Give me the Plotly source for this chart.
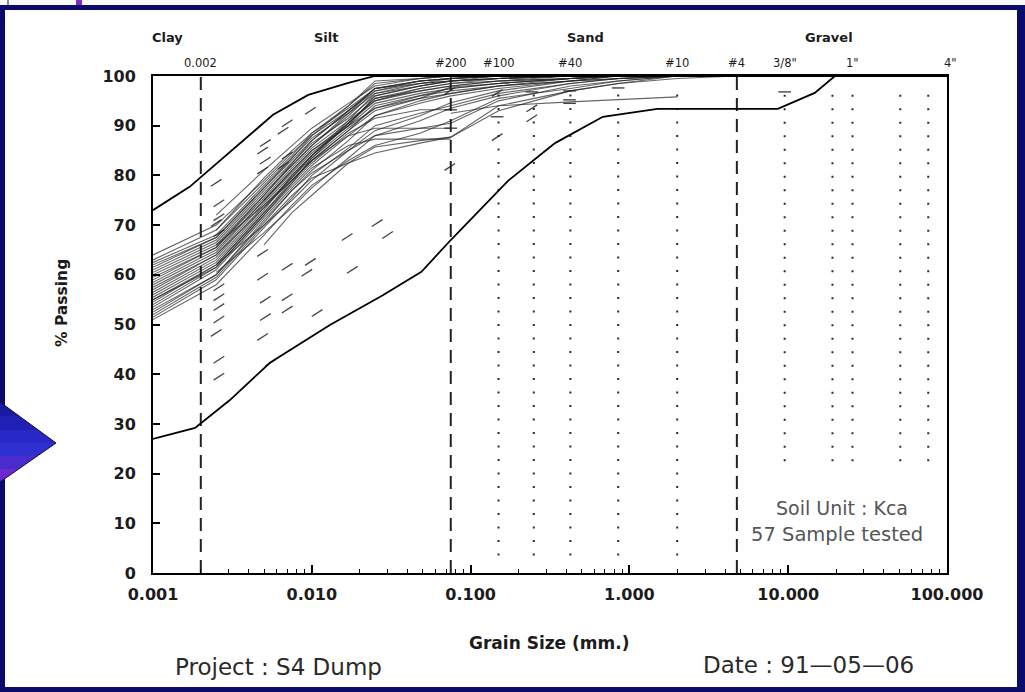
import plotly.graph_objects as go
import math

# ---------------------------------------------------------------------------
# Grain-size distribution, soil unit Kca, S4 Dump (57 samples)
# ---------------------------------------------------------------------------

# grain sizes (mm) at which every sample record is tabulated
GRID_MM = [0.001, 0.0025, 0.005, 0.0075, 0.01, 0.017, 0.025, 0.048, 0.075,
           0.15, 0.425, 0.85, 2.0, 4.75]

# % passing per sample record (None = no reading at that size)
S01 = [None, 72, 81, 86, 89.5, 94.5, 98, 99.5, 100, 100, None, None, None, None]
S02 = [None, 69, 79.5, 85, 88.5, 93.5, 97.5, 99, 99.5, 100, 100, None, None, None]
S03 = [64, 70, 79, 84.5, 88, 93, 97, 99, 99.5, 100, 100, 100, None, None]
S04 = [63, 69, 78.5, 84, 88.5, 94, 98.5, 99.5, 100, 100, None, None, None, None]
S05 = [62.5, 68, 78, 83.5, 87.5, 92.5, 96.5, 98.5, 99, 99.5, 100, 100, 100, 100]
S06 = [62, 67.5, 77.5, 83, 87, 93, 97.5, 99, 99.5, 100, 100, 100, None, None]
S07 = [61, 67, 77, 82.5, 86.5, 91.5, 96, 98, 99, 99.5, 100, 100, 100, None]
S08 = [60.5, 66.5, 76.5, 82, 86, 92, 97, 98.5, 99.5, 100, 100, None, None, None]
S09 = [60, 66, 76, 82.5, 87, 93, 97.5, 98.5, 99, 99.5, 100, 100, 100, 100]
S10 = [59, 65.5, 75.5, 81.5, 85.5, 91, 95, 97.5, 98.5, 99, 99.5, 100, 100, None]
S11 = [58.5, 65, 75, 81, 85, 90.5, 95.5, 97, 98, 99, 100, 100, None, None]
S12 = [58, 64.5, 75, 80.5, 84.5, 90, 94.5, 96.5, 97.5, 98.5, 99.5, 100, 100, 100]
S13 = [57, 64, 74.5, 80, 84, 90, 96, 98, 99, 99.5, 100, None, None, None]
S14 = [56.5, 63.5, 74, 79.5, 83.5, 89.5, 93.5, 96, 97, 98, 99, 99.5, 100, 100]
S15 = [56, 63, 73.5, 79, 83, 89, 93, 95.5, 96.5, 98, 99, 100, 100, None]
S16 = [55.5, 62.5, 73, 80, 84, 91, 96.5, 98, 99, 100, None, None, None, None]
S17 = [55, 62, 72.5, 78.5, 82.5, 88.5, 91.5, 93.2, 93.2, None, None, None, None, None]
S18 = [54, 61.5, 72, 78, 82, 88, 89.5, None, 89.5, None, None, None, None, None]
S19 = [53.5, 61, 71.5, 77.5, 81.5, 86, 87.3, None, 87.3, None, None, None, None, None]
S20 = [53, 60, 71, 77, 80.5, 85, 88, 89.5, 90.5, 95, 98, 99, 100, None]
S21 = [52, 59.5, 70, 76, 79.5, 82.5, 84.5, 86.5, 87.7, 94, 97, 98.5, 99.5, 100]
S22 = [51.5, 59, 69.5, 75.5, 80, 85.5, 90, 92.5, 94, 96.5, 98.5, 99.5, 100, None]
S23 = [51, 58, 68, 74, 78, 83, 86, 88.5, 91, 95.5, 97.5, 99, 100, None]
S24 = [None, None, 66, 72.5, 76, 82.5, 85.7, 87, 87.7, 93, 97, 98.5, 100, None]
S25 = [None, 62, 70, 75, 79, 85, 89, 92, 94.6, 97, 99, 100, None, None]
S26 = [None, 66, 74, 79, 83, 88, 92, 95, 96.5, 98, 99.5, 100, None, None]
S27 = [None, None, 75, 81, 85, 90, 93.5, 95.5, 97.8, 98.5, 99.5, 100, None, None]
S28 = [None, None, None, None, None, None, None, None, 92.5, 94, 94.8, 95.2, 95.8, None]
S29 = [57.5, 64, 73.5, 79.5, 84, 90.5, 95.5, 97.5, 98.5, 99.5, 100, None, None, None]
S30 = [55, 61.5, 72, 78.5, 83.5, 90.5, 95, 97, 98, 99, 99.5, 100, None, None]
S31 = [59.5, 65.5, 76, 82, 86, 92.5, 97.5, 99, 99.5, 100, None, None, None, None]
S32 = [61.5, 67.5, 77.5, 83.5, 88, 94, 99, 99.5, 100, None, None, None, None, None]
S33 = [54.5, 62, 72.5, 79, 83, 89, 94, 96, 97.5, 98.5, 99.5, 100, None, None]
S34 = [52.5, 60, 70.5, 77, 81, 87, 92, 94.5, 96, 97.5, 99, 99.5, 100, None]
S35 = [None, 60.5, 68.5, 73.5, 77.5, 83.5, 88, 91, 93.5, 96, 98.5, 99.5, 100, None]

SAMPLES = [S01, S02, S03, S04, S05, S06, S07, S08, S09, S10, S11, S12, S13, S14, S15,
           S16, S17, S18, S19, S20, S21, S22, S23, S24, S25, S26, S27, S28, S29, S30,
           S31, S32, S33, S34, S35]

# hydrometer slope marks (size mm, % passing)
MARK_MM = [0.0098, 0.0070, 0.0066, 0.0051, 0.0049, 0.0051, 0.0049, 0.0070, 0.0066,
           0.0025, 0.0026, 0.0026, 0.0025, 0.0026,
           0.0258, 0.030, 0.0167, 0.0098, 0.0070, 0.0093, 0.018,
           0.0049, 0.0049, 0.0070, 0.0051, 0.0070, 0.0108, 0.0051, 0.0049,
           0.0026, 0.0026, 0.0026, 0.0026, 0.0025, 0.0026, 0.0026, 0.0055,
           0.147, 0.147, 0.243, 0.243, 0.074, 0.074]
MARK_PCT = [93, 90.5, 89, 86.5, 85, 83, 81, 84, 82,
            78.5, 74.4, 71.6, 70.4, 68.4,
            70.4, 68, 67.6, 62.6, 61.6, 60.4, 61,
            64.4, 59.6, 55.5, 55, 53, 52.3, 51.5, 47.5,
            57.5, 55.5, 53.5, 51, 48.3, 42.9, 39.5, 42.3,
            96.6, 87.7, 93.5, 91.5, 81.7, 97]

# level reading marks (size mm, % passing)
FLAT_MM = [0.147, 0.42, 0.42, 0.42, 0.85, 0.243, 9.5, 0.075, 0.075]
FLAT_PCT = [91.8, 95.2, 94.5, 97, 97.6, 96.8, 96.8, 93.2, 89.5]

# envelope of all samples
UPPER_MM = [0.001, 0.0017, 0.0057, 0.0095, 0.017, 0.025, 100]
UPPER_PCT = [73, 77.7, 92.2, 96.2, 98.6, 100, 100]
LOWER_MM = [0.001, 0.00184, 0.00305, 0.00545, 0.013, 0.028, 0.049, 0.075, 0.172,
            0.34, 0.68, 1.5, 8.6, 14.7, 19.7, 100]
LOWER_PCT = [27, 29.2, 34.8, 42.3, 49.9, 55.9, 60.6, 67, 78.9,
             86.5, 91.8, 93.4, 93.4, 96.6, 100, 100]

# class boundaries (clay/silt, #200, #4) and intermediate sieves
BOUNDARY_MM = [0.002, 0.075, 4.75]
SAND_SIEVES_MM = [0.15, 0.25, 0.425, 0.85, 2.0]
GRAVEL_SIEVES_MM = [9.5, 19.0, 25.4, 50.8, 76.2]

SIEVE_LABELS = ["0.002", "#200", "#100", "#40", "#10", "#4", "3/8\"", "1\""]
SIEVE_LABEL_MM = [0.002, 0.075, 0.15, 0.425, 2.0, 4.75, 9.5, 25.4]
EDGE_SIEVE_LABEL = "4\""   # 101.6 mm, just past the right edge of the axis

CLASS_NAMES = ["Clay", "Silt", "Sand", "Gravel"]
CLASS_LABEL_MM = [0.00123, 0.0123, 0.53, 18.0]

X_TICKS = [0.001, 0.01, 0.1, 1, 10, 100]
X_TICKTEXT = ["0.001", "0.010", "0.100", "1.000", "10.000", "100.000"]
Y_TICKS = list(range(0, 101, 10))

# ---------------------------------------------------------------------------
W, H = 1025, 692
ML, MR, MT, MB = 153, 78, 76, 119
PW, PH = W - ML - MR, H - MT - MB
NAVY = "#0b0b6c"
INK = "#1c1c1c"


def fx(px):
    """pixel column -> paper x"""
    return (px - ML) / PW


def fy(py):
    """pixel row -> paper y"""
    return (H - MB - py) / PH


def text_note(px, py, text, size, color, family="DejaVu Sans", angle=0):
    return dict(x=fx(px), y=fy(py), xref="paper", yref="paper", text=text,
                xanchor="center", yanchor="middle", textangle=angle, showarrow=False,
                font=dict(family=family, size=size, color=color))


fig = go.Figure()

# dotted sieve lines
for mm in SAND_SIEVES_MM:
    fig.add_trace(go.Scatter(x=[mm, mm], y=[3.5, 97.5], mode="lines",
                             line=dict(color="#2a2a2a", width=2, dash="2px,11.5px"),
                             hoverinfo="skip"))
for mm in GRAVEL_SIEVES_MM:
    fig.add_trace(go.Scatter(x=[mm, mm], y=[22.5, 97.5], mode="lines",
                             line=dict(color="#2a2a2a", width=2, dash="2px,11.5px"),
                             hoverinfo="skip"))

# dashed class boundaries
for mm in BOUNDARY_MM:
    fig.add_trace(go.Scatter(x=[mm, mm], y=[0, 100], mode="lines",
                             line=dict(color="#222", width=2, dash="13px,8px"),
                             hoverinfo="skip"))

# individual sample curves
for s in SAMPLES:
    fig.add_trace(go.Scatter(x=GRID_MM, y=s, mode="lines", connectgaps=True,
                             line=dict(color="rgba(35,35,35,0.7)", width=1.1),
                             hoverinfo="skip"))

# hydrometer marks
fig.add_trace(go.Scatter(x=MARK_MM, y=MARK_PCT, mode="markers",
                         marker=dict(symbol="line-ne", size=9, angle=12,
                                     line=dict(color="rgba(35,35,35,0.85)", width=1.3)),
                         hoverinfo="skip"))
fig.add_trace(go.Scatter(x=FLAT_MM, y=FLAT_PCT, mode="markers",
                         marker=dict(symbol="line-ew", size=9,
                                     line=dict(color="rgba(35,35,35,0.85)", width=1.4)),
                         hoverinfo="skip"))

# envelopes
fig.add_trace(go.Scatter(x=UPPER_MM, y=UPPER_PCT, mode="lines",
                         line=dict(color="black", width=1.8), hoverinfo="skip"))
fig.add_trace(go.Scatter(x=LOWER_MM, y=LOWER_PCT, mode="lines",
                         line=dict(color="black", width=1.8), hoverinfo="skip"))

annotations = []
for name, mm in zip(CLASS_NAMES, CLASS_LABEL_MM):
    annotations.append(dict(x=math.log10(mm), xref="x", y=fy(37), yref="paper",
                            xanchor="center", yanchor="middle",
                            text=f"<b>{name}</b>", showarrow=False,
                            font=dict(family="DejaVu Sans", size=13, color=INK)))
for lab, mm in zip(SIEVE_LABELS, SIEVE_LABEL_MM):
    annotations.append(dict(x=math.log10(mm), xref="x", y=fy(63), yref="paper",
                            xanchor="center", yanchor="middle",
                            text=lab, showarrow=False,
                            font=dict(family="DejaVu Sans", size=11.5, color=INK)))
annotations.append(text_note(950, 63, EDGE_SIEVE_LABEL, 11.5, INK))

annotations += [
    text_note(62, 303, "<b>% Passing</b>", 15.5, INK, angle=-90),
    text_note(549, 643, "<b>Grain Size (mm.)</b>", 17, INK),
    text_note(278, 667, "Project : S4 Dump", 23, "#2a2a2a"),
    text_note(808, 665, "Date : 91—05—06", 23, "#2a2a2a"),
    text_note(842, 508, "Soil Unit : Kca", 19, "#555"),
    text_note(837, 534, "57 Sample tested", 19.5, "#555"),
]

shapes = [
    # white slide panel inside the navy frame
    dict(type="rect", xref="paper", yref="paper", x0=fx(5), x1=fx(1017), y0=fy(687), y1=fy(10),
         fillcolor="white", line=dict(width=0), layer="below"),
    dict(type="rect", xref="paper", yref="paper", x0=fx(0), x1=fx(1025), y0=fy(5), y1=fy(0),
         fillcolor="#fafafa", line=dict(width=0), layer="below"),
    dict(type="rect", xref="paper", yref="paper", x0=fx(76), x1=fx(82), y0=fy(5), y1=fy(0),
         fillcolor="#7b2fc4", line=dict(width=0), layer="below"),
    dict(type="line", xref="paper", yref="paper", x0=fx(8), x1=fx(8), y0=fy(5), y1=fy(0),
         line=dict(color="#222", width=1), layer="below"),
]

# pointer arrow on the left edge, shaded blue -> violet from top to bottom
ARROW_TOP, ARROW_TIP_Y, ARROW_BOT, ARROW_TIP_X = 402, 443, 482, 56
band_edges = [402, 416, 430, 443, 456, 469, 482]
band_colors = ["#1a1aa0", "#2020b4", "#2828c6", "#3030d0", "#4a2ccc", "#6a2ad0"]


def arrow_x(py):
    if py <= ARROW_TIP_Y:
        return ARROW_TIP_X * (py - ARROW_TOP) / (ARROW_TIP_Y - ARROW_TOP)
    return ARROW_TIP_X * (ARROW_BOT - py) / (ARROW_BOT - ARROW_TIP_Y)


for (ya, yb), col in zip(zip(band_edges[:-1], band_edges[1:]), band_colors):
    shapes.append(dict(type="path", xref="paper", yref="paper",
                       path=(f"M {fx(0)},{fy(ya)} L {fx(arrow_x(ya))},{fy(ya)} "
                             f"L {fx(arrow_x(yb))},{fy(yb)} L {fx(0)},{fy(yb)} Z"),
                       fillcolor=col, line=dict(width=0)))
shapes.append(dict(type="path", xref="paper", yref="paper",
                   path=(f"M {fx(0)},{fy(ARROW_TOP)} L {fx(ARROW_TIP_X)},{fy(ARROW_TIP_Y)} "
                         f"L {fx(0)},{fy(ARROW_BOT)}"),
                   line=dict(color="#101030", width=1)))

fig.update_layout(
    width=W, height=H,
    margin=dict(l=ML, r=MR, t=MT, b=MB, pad=0),
    paper_bgcolor=NAVY, plot_bgcolor="white",
    showlegend=False,
    annotations=annotations,
    shapes=shapes,
    xaxis=dict(type="log", range=[-3, 2], tickvals=X_TICKS, ticktext=X_TICKTEXT,
               showgrid=False, zeroline=False, showline=True, linecolor="black",
               linewidth=2, mirror=True, ticks="inside", ticklen=8, tickwidth=1.5,
               tickcolor="black", ticklabelstandoff=6,
               minor=dict(ticks="inside", ticklen=4, tickwidth=1.2, tickcolor="black",
                          tickvals=[m * 10 ** e for e in range(-3, 2) for m in range(2, 10)]),
               tickfont=dict(family="DejaVu Sans", size=16, color=INK, weight="bold")),
    yaxis=dict(range=[0, 100], tickvals=Y_TICKS, showgrid=False, zeroline=False,
               showline=True, linecolor="black", linewidth=2, mirror=True,
               ticks="inside", ticklen=7, tickwidth=2, tickcolor="black",
               ticklabelstandoff=12,
               tickfont=dict(family="DejaVu Sans", size=16, color=INK, weight="bold")),
)

fig.write_html("out.html")
